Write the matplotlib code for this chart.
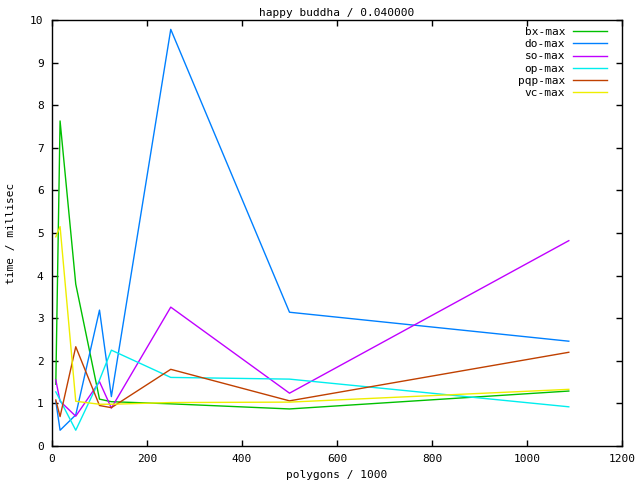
import matplotlib
matplotlib.use("Agg")
import matplotlib.pyplot as plt

polygons = [8, 17, 50, 100, 125, 250, 500, 1088]

bx_max = [1.45, 7.63, 3.8, 1.1, 1.04, 0.99, 0.87, 1.29]
do_max = [1.05, 0.37, 0.73, 3.19, 1.16, 9.78, 3.14, 2.46]
so_max = [1.55, 1.05, 0.7, 1.51, 0.89, 3.26, 1.24, 4.82]
op_max = [1.27, 1.08, 0.37, 1.55, 2.25, 1.61, 1.57, 0.92]
pqp_max = [1.08, 0.69, 2.33, 0.95, 0.9, 1.8, 1.06, 2.2]
vc_max = [4.91, 5.15, 1.05, 0.98, 0.98, 1.02, 1.03, 1.33]

series = [
    ("bx-max", bx_max, "#00c000"),
    ("do-max", do_max, "#0080ff"),
    ("so-max", so_max, "#c000ff"),
    ("op-max", op_max, "#00eeee"),
    ("pqp-max", pqp_max, "#c04000"),
    ("vc-max", vc_max, "#eeee00"),
]

xticks = [0, 200, 400, 600, 800, 1000, 1200]
yticks = list(range(0, 11))

plt.rcParams['font.family'] = ['DejaVu Sans Mono']
fig = plt.figure(figsize=(6.4, 4.8), dpi=100)
ax = fig.add_axes([52/640, 1-446/480, 570/640, 426/480])

for name, vals, col in series:
    ax.plot(polygons, vals, color=col, lw=1.0, label=name)

ax.set_xlim(0, 1200)
ax.set_ylim(0, 10)
ax.set_xticks(xticks)
ax.set_yticks(yticks)
ax.tick_params(direction='in', length=4, width=1, top=True, right=True,
               labelsize=8, pad=6)
for s in ax.spines.values():
    s.set_linewidth(1)

ax.set_title("happy buddha / 0.040000", fontsize=8, pad=3)
ax.set_xlabel("polygons / 1000", fontsize=8, labelpad=4)
ax.set_ylabel("time / millisec", fontsize=8, labelpad=10)

leg = ax.legend(loc='upper right', bbox_to_anchor=(1 - 15/570, 1 - 7/426),
                frameon=False, markerfirst=False, borderaxespad=0, borderpad=0,
                fontsize=8, handlelength=3.05, labelspacing=0.2,
                handletextpad=0.72)
for t in leg.get_texts():
    t.set_ha('right')

fig.savefig("out.png", dpi=100)
